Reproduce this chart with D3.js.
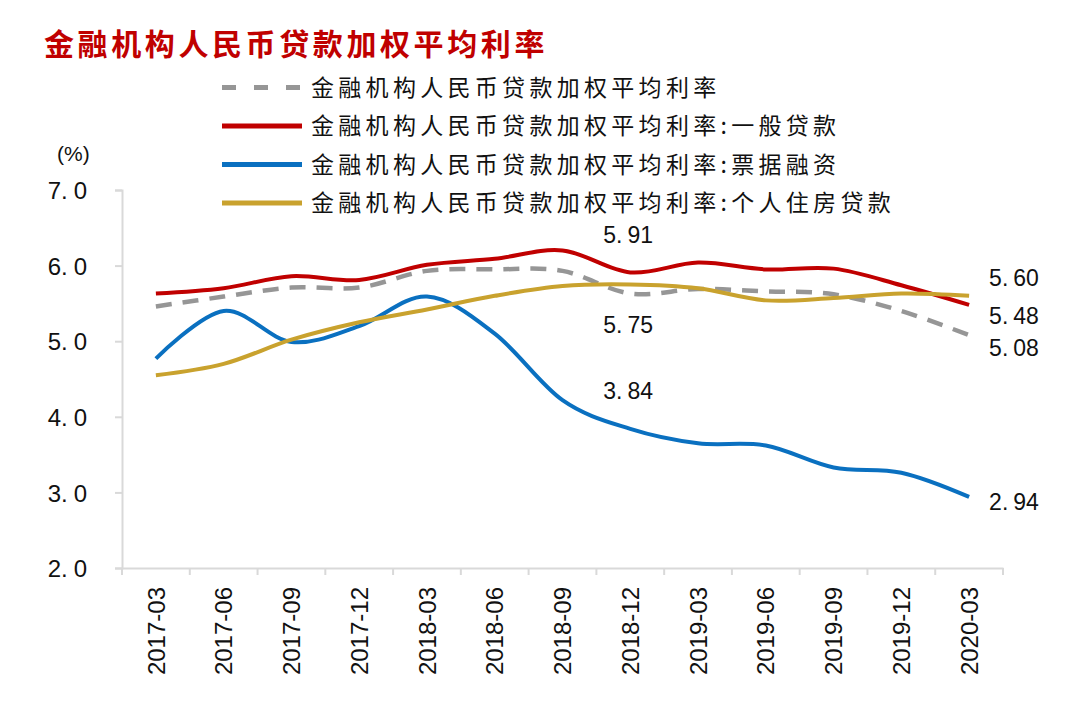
<!DOCTYPE html>
<html>
<head>
<meta charset="utf-8">
<script src="https://cdn.jsdelivr.net/npm/d3@7/dist/d3.min.js"></script>
<style>
  html, body { margin: 0; padding: 0; background: #fff; }
  svg { display: block; }
</style>
</head>
<body>
<div id="chart"></div>
<script>
// ---------------- data ----------------
const categories = ["2017-03","2017-06","2017-09","2017-12","2018-03","2018-06","2018-09",
                    "2018-12","2019-03","2019-06","2019-09","2019-12","2020-03"];
const seriesNames = [
  "金融机构人民币贷款加权平均利率",
  "金融机构人民币贷款加权平均利率:一般贷款",
  "金融机构人民币贷款加权平均利率:票据融资",
  "金融机构人民币贷款加权平均利率:个人住房贷款"
];
const overallValues = [5.46, 5.59, 5.71, 5.71, 5.93, 5.95, 5.93, 5.63, 5.69, 5.66, 5.62, 5.40, 5.08];
const generalValues = [5.63, 5.70, 5.86, 5.81, 6.01, 6.09, 6.20, 5.91, 6.04, 5.95, 5.96, 5.74, 5.48];
const billValues    = [4.77, 5.40, 4.99, 5.20, 5.59, 5.10, 4.22, 3.84, 3.65, 3.62, 3.33, 3.26, 2.94];
const housingValues = [4.55, 4.70, 5.02, 5.25, 5.42, 5.60, 5.73, 5.75, 5.70, 5.54, 5.57, 5.63, 5.60];
const yTicks = [2, 3, 4, 5, 6, 7];
const titleText = "金融机构人民币贷款加权平均利率";
const unitText = "(%)";
// annotations: [category, value, dx, dy]
const annotations = [
  ["2018-12", 5.91, -27, -29],
  ["2018-12", 5.75, -27, 48],
  ["2018-12", 3.84, -27, -30],
  ["2020-03", 5.60, 20, -10],
  ["2020-03", 5.48, 20, 19],
  ["2020-03", 5.08, 20, 21],
  ["2020-03", 2.94, 20, 13]
];

// ---------------- layout ----------------
const W = 1080, H = 722;
const plot = { left: 122, right: 1003, top: 190, bottom: 568 };
const colors = ["#969696", "#c00000", "#0a70c0", "#c9a22e"];
const seriesValues = [overallValues, generalValues, billValues, housingValues];

const svg = d3.select("#chart").append("svg").attr("width", W).attr("height", H);

const x = d3.scaleBand().domain(categories).range([plot.left, plot.right]).padding(0);
const y = d3.scaleLinear().domain([2, 7]).range([plot.bottom, plot.top]);
const cx = c => x(c) + x.bandwidth() / 2;

const numFont = "'Liberation Sans', Arial, sans-serif";
const cjkFont = "'Noto Sans CJK SC', sans-serif";

// title
svg.append("text")
  .attr("x", 44).attr("y", 55)
  .attr("font-family", cjkFont).attr("font-weight", 700)
  .attr("font-size", 30).attr("letter-spacing", 3.6)
  .attr("fill", "#c00000")
  .text(titleText);

// unit
svg.append("text")
  .attr("x", 57).attr("y", 161)
  .attr("font-family", numFont).attr("font-size", 21).attr("fill", "#111")
  .text(unitText);

// y axis
const yAxis = d3.axisLeft(y).tickValues(yTicks).tickSize(7).tickFormat(d => d3.format(".1f")(d));
const gy = svg.append("g").attr("transform", `translate(${plot.left},0)`).call(yAxis);
gy.select(".domain").attr("stroke", "#d9d9d9").attr("stroke-width", 2);
gy.selectAll(".tick line").attr("stroke", "#d9d9d9").attr("stroke-width", 2);
gy.selectAll(".tick text").each(function(d) {
  const t = d3.select(this);
  const s = d3.format(".1f")(d);
  const parts = s.split(".");
  t.text(null)
    .attr("x", -35).attr("dy", "0.36em")
    .attr("font-family", numFont).attr("font-size", 24).attr("fill", "#111")
    .attr("text-anchor", "end");
  t.append("tspan").text(parts[0] + ".");
  t.append("tspan").attr("dx", 6).text(parts[1]);
});

// x axis
const xAxis = d3.axisBottom(x).tickSize(0).tickFormat(d => d);
const gx = svg.append("g").attr("transform", `translate(0,${plot.bottom})`).call(xAxis);
gx.select(".domain").attr("stroke", "#d9d9d9").attr("stroke-width", 2);
gx.selectAll(".tick text")
  .attr("font-family", numFont).attr("font-size", 24).attr("fill", "#111")
  .attr("text-anchor", "end")
  .attr("transform", "rotate(-90)")
  .attr("x", -19).attr("y", 0).attr("dy", "0.36em");
// boundary ticks
const boundaries = categories.map(c => x(c)).concat([x(categories[categories.length - 1]) + x.bandwidth()]);
gx.selectAll(".bnd").data(boundaries).enter().append("line")
  .attr("x1", d => d).attr("x2", d => d).attr("y1", 0).attr("y2", 7)
  .attr("stroke", "#d9d9d9").attr("stroke-width", 2);

// lines
const line = d3.line()
  .x((d, i) => cx(categories[i]))
  .y(d => y(d))
  .curve(d3.curveCatmullRom.alpha(0));

seriesValues.forEach((vals, k) => {
  svg.append("path")
    .datum(vals)
    .attr("d", line)
    .attr("fill", "none")
    .attr("stroke", colors[k])
    .attr("stroke-width", k === 0 ? 4.5 : 4)
    .attr("stroke-dasharray", k === 0 ? "16,11" : null)
    .attr("stroke-linecap", "butt");
});

// legend
const legendRows = [87.5, 126, 164.5, 203];
seriesNames.forEach((name, k) => {
  const g = svg.append("g").attr("transform", `translate(0,${legendRows[k]})`);
  g.append("line")
    .attr("x1", 222).attr("x2", 302).attr("y1", 0).attr("y2", 0)
    .attr("stroke", colors[k]).attr("stroke-width", 5)
    .attr("stroke-dasharray", k === 0 ? "14,18" : null);
  g.append("text")
    .attr("x", 311).attr("y", 0).attr("dy", "0.36em")
    .attr("font-family", cjkFont).attr("font-size", 23).attr("letter-spacing", 4.3)
    .attr("fill", "#111")
    .text(name);
});

// annotations
annotations.forEach(([c, v, dx, dy]) => {
  const s = d3.format(".2f")(v);
  const parts = s.split(".");
  const t = svg.append("text")
    .attr("x", cx(c) + dx).attr("y", y(v) + dy)
    .attr("font-family", numFont).attr("font-size", 23).attr("fill", "#111");
  t.append("tspan").text(parts[0] + ".");
  t.append("tspan").attr("dx", 5).text(parts[1]);
});
</script>
</body>
</html>
